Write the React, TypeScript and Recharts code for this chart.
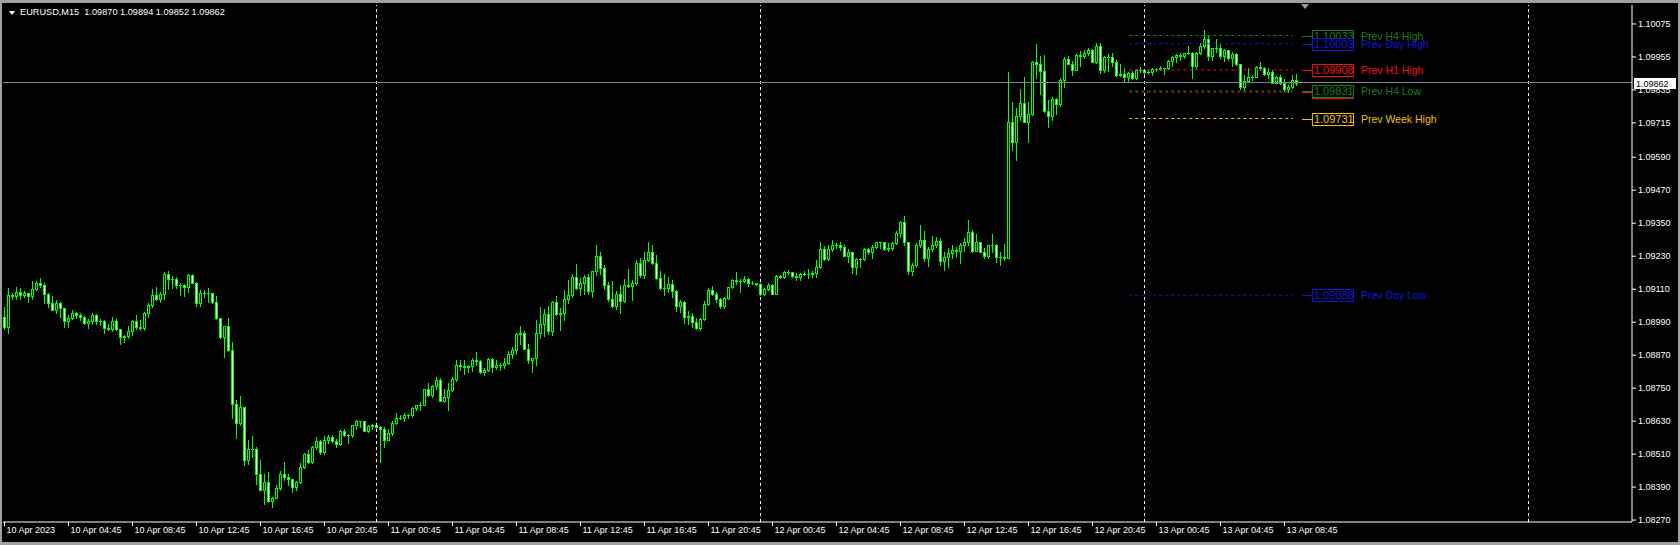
import { ComposedChart, Bar, XAxis, YAxis, ReferenceLine } from 'recharts'

// EURUSD M15, bars 0..323 (10 Apr 00:45 .. 13 Apr 09:45)
// prices kept as points above 1.08000 (price = 1.08 + pts / 100000)
const firstOpenPts = 1010

const closePts = [
  973, 1089, 1086, 1101, 1089, 1095, 1086, 1109, 1131, 1124,
  1091, 1061, 1036, 1058, 1040, 995, 1007, 1022, 1016, 1010,
  988, 994, 1016, 995, 995, 970, 967, 993, 964, 937,
  939, 958, 995, 973, 970, 1024, 1052, 1089, 1073, 1092,
  1167, 1146, 1146, 1127, 1127, 1119, 1161, 1133, 1061, 1097,
  1095, 1095, 1064, 1006, 937, 975, 888, 694, 622, 680,
  490, 530, 530, 439, 381, 409, 340, 351, 385, 439,
  427, 421, 391, 408, 464, 512, 480, 537, 558, 518,
  561, 571, 558, 546, 593, 579, 581, 615, 631, 630,
  594, 611, 617, 608, 603, 563, 588, 625, 643, 642,
  654, 654, 676, 688, 688, 746, 724, 757, 779, 704,
  719, 745, 785, 836, 831, 827, 830, 852, 849, 809,
  815, 855, 827, 836, 833, 843, 876, 888, 946, 949,
  894, 852, 858, 952, 985, 1018, 957, 1064, 1019, 1024,
  1074, 1088, 1153, 1115, 1131, 1155, 1104, 1176, 1230, 1188,
  1125, 1076, 1049, 1094, 1068, 1127, 1122, 1131, 1207, 1161,
  1216, 1246, 1207, 1150, 1113, 1116, 1128, 1105, 1050, 1062,
  1010, 1014, 990, 968, 1002, 1055, 1107, 1093, 1073, 1050,
  1077, 1117, 1144, 1140, 1140, 1147, 1131, 1131, 1130, 1091,
  1111, 1125, 1094, 1158, 1156, 1172, 1172, 1158, 1155, 1165,
  1165, 1164, 1170, 1190, 1256, 1220, 1256, 1271, 1269, 1263,
  1232, 1247, 1192, 1220, 1219, 1256, 1244, 1265, 1281, 1280,
  1256, 1259, 1277, 1313, 1356, 1281, 1176, 1198, 1271, 1289,
  1222, 1256, 1271, 1286, 1214, 1227, 1241, 1253, 1249, 1271,
  1281, 1317, 1250, 1281, 1247, 1229, 1269, 1269, 1226, 1226,
  1225, 1719, 1644, 1741, 1786, 1719, 1746, 1938, 1931, 1905,
  1758, 1741, 1802, 1782, 1871, 1947, 1931, 1907, 1962, 1959,
  1968, 1980, 1938, 1995, 1907, 1956, 1953, 1938, 1889, 1893,
  1883, 1895, 1877, 1907, 1908, 1899, 1901, 1911, 1912, 1913,
  1913, 1940, 1953, 1962, 1959, 1968, 1968, 1923, 1968, 1995,
  2022, 1959, 1986, 1986, 1959, 1980, 1950, 1964, 1929, 1847,
  1868, 1881, 1883, 1917, 1913, 1893, 1901, 1862, 1881, 1859,
  1840, 1847, 1870, 1862,
]

const highPts = [
  1046, 1113, 1095, 1117, 1113, 1104, 1096, 1140, 1140, 1149,
  1131, 1095, 1086, 1070, 1064, 1040, 1016, 1034, 1028, 1022,
  1012, 1000, 1022, 1019, 1000, 998, 983, 1010, 1000, 964,
  943, 976, 998, 1016, 998, 1028, 1061, 1109, 1117, 1101,
  1171, 1176, 1158, 1153, 1131, 1129, 1165, 1165, 1137, 1107,
  1107, 1113, 1097, 1085, 1007, 977, 1004, 919, 706, 721,
  682, 563, 575, 537, 488, 439, 444, 355, 397, 449,
  482, 439, 421, 413, 476, 515, 524, 539, 573, 563,
  575, 579, 579, 566, 597, 603, 583, 617, 633, 632,
  630, 617, 619, 617, 611, 609, 603, 630, 661, 651,
  661, 657, 682, 690, 700, 748, 767, 761, 791, 787,
  748, 770, 791, 852, 854, 852, 833, 858, 882, 852,
  824, 858, 858, 852, 843, 858, 884, 900, 949, 975,
  957, 909, 860, 997, 1046, 1037, 1048, 1066, 1085, 1042,
  1106, 1143, 1165, 1201, 1149, 1161, 1167, 1176, 1270, 1246,
  1197, 1137, 1139, 1103, 1127, 1146, 1183, 1143, 1218, 1222,
  1246, 1280, 1270, 1235, 1176, 1164, 1156, 1144, 1107, 1071,
  1067, 1031, 1022, 1004, 1007, 1067, 1113, 1123, 1099, 1079,
  1083, 1119, 1147, 1172, 1147, 1158, 1150, 1140, 1134, 1134,
  1116, 1131, 1128, 1162, 1162, 1176, 1180, 1174, 1168, 1170,
  1176, 1184, 1176, 1216, 1283, 1267, 1269, 1289, 1277, 1280,
  1269, 1256, 1247, 1222, 1222, 1259, 1261, 1271, 1283, 1283,
  1280, 1277, 1283, 1322, 1358, 1377, 1283, 1204, 1277, 1344,
  1320, 1265, 1304, 1301, 1298, 1244, 1261, 1271, 1265, 1277,
  1298, 1362, 1326, 1310, 1283, 1259, 1271, 1310, 1273, 1244,
  1273, 1899, 1790, 1768, 1840, 1881, 1792, 1940, 2002, 1958,
  1962, 1798, 1810, 1806, 1879, 1956, 1958, 1940, 1964, 1976,
  1980, 1988, 1984, 2004, 2007, 1959, 1965, 1968, 1944, 1928,
  1916, 1901, 1904, 1910, 1919, 1910, 1907, 1913, 1916, 1922,
  1916, 1944, 1959, 1964, 1968, 1970, 1995, 1974, 1972, 2004,
  2053, 2031, 1988, 2020, 2001, 1984, 1982, 1974, 1968, 1931,
  1889, 1916, 1889, 1922, 1935, 1919, 1913, 1907, 1887, 1891,
  1873, 1853, 1891, 1894,
]

const lowPts = [
  967, 949, 1076, 1073, 1076, 1080, 1064, 1076, 1107, 1119,
  1061, 1046, 1034, 1024, 1010, 973, 973, 1000, 1007, 998,
  985, 970, 985, 985, 979, 951, 961, 959, 961, 909,
  919, 934, 943, 967, 961, 961, 1010, 1046, 1070, 1064,
  1073, 1109, 1113, 1113, 1089, 1087, 1101, 1131, 1049, 1050,
  1083, 1064, 1061, 1001, 933, 864, 886, 643, 567, 615,
  472, 473, 500, 403, 379, 327, 336, 316, 349, 379,
  415, 399, 373, 379, 406, 461, 478, 476, 530, 512,
  512, 551, 554, 536, 542, 575, 551, 573, 603, 609,
  593, 591, 603, 600, 482, 536, 560, 581, 621, 637,
  631, 642, 648, 672, 672, 688, 722, 718, 748, 702,
  700, 670, 740, 775, 815, 801, 809, 813, 833, 806,
  797, 812, 809, 821, 815, 824, 839, 860, 873, 912,
  892, 843, 809, 833, 933, 940, 947, 943, 1015, 961,
  997, 1061, 1082, 1112, 1088, 1094, 1094, 1082, 1161, 1165,
  1112, 1066, 1046, 1037, 1024, 1064, 1118, 1070, 1125, 1155,
  1149, 1212, 1203, 1147, 1111, 1089, 1101, 1083, 1031, 1028,
  986, 982, 974, 964, 962, 998, 1053, 1089, 1062, 1043,
  1043, 1074, 1113, 1128, 1101, 1138, 1123, 1128, 1125, 1089,
  1089, 1107, 1091, 1091, 1150, 1150, 1164, 1156, 1144, 1144,
  1162, 1150, 1153, 1153, 1186, 1216, 1216, 1249, 1259, 1253,
  1229, 1210, 1170, 1165, 1192, 1216, 1237, 1225, 1261, 1259,
  1253, 1249, 1253, 1275, 1301, 1271, 1165, 1162, 1192, 1265,
  1214, 1196, 1249, 1265, 1198, 1180, 1192, 1222, 1229, 1204,
  1249, 1271, 1244, 1249, 1244, 1222, 1225, 1247, 1210, 1198,
  1216, 1222, 1616, 1580, 1725, 1717, 1646, 1743, 1879, 1822,
  1756, 1701, 1725, 1746, 1777, 1847, 1928, 1891, 1907, 1923,
  1952, 1962, 1935, 1934, 1895, 1901, 1905, 1923, 1887, 1887,
  1865, 1865, 1874, 1874, 1901, 1891, 1895, 1889, 1904, 1907,
  1893, 1911, 1923, 1938, 1944, 1952, 1964, 1879, 1913, 1964,
  1988, 1944, 1944, 1972, 1952, 1940, 1944, 1923, 1925, 1840,
  1834, 1865, 1871, 1881, 1907, 1889, 1879, 1859, 1859, 1855,
  1831, 1828, 1843, 1852,
]

const timeTicks = [0, 16, 32, 48, 64, 80, 96, 112, 128, 144, 160, 176, 192, 208, 224, 240, 256, 272, 288, 304, 320]
const timeLabels = [
  '10 Apr 2023', '10 Apr 04:45', '10 Apr 08:45', '10 Apr 12:45', '10 Apr 16:45', '10 Apr 20:45',
  '11 Apr 00:45', '11 Apr 04:45', '11 Apr 08:45', '11 Apr 12:45', '11 Apr 16:45', '11 Apr 20:45',
  '12 Apr 00:45', '12 Apr 04:45', '12 Apr 08:45', '12 Apr 12:45', '12 Apr 16:45', '12 Apr 20:45',
  '13 Apr 00:45', '13 Apr 04:45', '13 Apr 08:45',
]
const priceTicks = [
  1.10075, 1.09955, 1.09835, 1.09715, 1.0959, 1.0947, 1.0935, 1.0923,
  1.0911, 1.0899, 1.0887, 1.0875, 1.0863, 1.0851, 1.0839, 1.0827,
]
// bar index of each midnight
const daySeparators = [93, 189, 285, 381]

// indicator levels; the H1 low sits just under the H4 low and only its line and box edge show
const levelNames = ['Prev H1 Low', 'Prev H4 High', 'Prev Day High', 'Prev H1 High', 'Prev H4 Low', 'Prev Week High', 'Prev Day Low']
const levelValues = [1.09827, 1.10033, 1.10003, 1.09908, 1.09831, 1.09731, 1.09088]
const levelHidden = [true, false, false, false, false, false, false]
const levelFrom = 281.2
const levelTo = 322.1

const symbol = 'EURUSD,M15'
const bid = 1.09862
const shiftBar = 325.1

const levelColors = ['#f01010', '#11801a', '#1414d8', '#f01010', '#11801a', '#f2c200', '#1414d8']
const LIME = '#00ff00'
const FONT = '"Liberation Sans", Arial, sans-serif'
const FRAME = '#a0a0a0'

const toPrice = (p: number) => 1.08 + p / 100000

const rows = closePts.map((c, i) => {
  const open = toPrice(i === 0 ? firstOpenPts : closePts[i - 1])
  const close = toPrice(c)
  const high = Math.max(toPrice(highPts[i]), open, close)
  const low = Math.min(toPrice(lowPts[i]), open, close)
  return { i, open, close, high, low, range: [low, high] }
})

const last = rows[rows.length - 1]

function Candle(props: any) {
  const { x, y, width, height, payload } = props
  if (!payload || x == null || y == null) return null
  const { open, close, high, low } = payload
  const yTop = Math.min(y, y + height)
  const yBot = Math.max(y, y + height)
  const span = high - low
  const toY = (p: number) => (span > 0 ? yTop + ((high - p) / span) * (yBot - yTop) : yTop)
  const cx = Math.floor(x + width / 2)
  const hy = Math.round(yTop)
  const ly = Math.round(yBot)
  const bt = Math.round(toY(Math.max(open, close)))
  const bb = Math.round(toY(Math.min(open, close)))
  const bear = close < open
  return (
    <g shapeRendering="crispEdges">
      <rect x={cx} y={hy} width={1} height={Math.max(1, ly - hy + 1)} fill={LIME} />
      <rect x={cx - 1} y={bt} width={3} height={Math.max(1, bb - bt + 1)} fill={LIME} />
      {bb - bt >= 2 && <rect x={cx} y={bt + 1} width={1} height={bb - bt - 1} fill={bear ? '#ffffff' : '#000000'} />}
    </g>
  )
}

function TimeTick(props: any) {
  const { x, y, payload } = props
  const idx = timeTicks.indexOf(payload.value)
  return (
    <text x={x + 2} y={y} dy="0.71em" fill="#ffffff" fontSize={9} fontFamily={FONT}>
      {timeLabels[idx]}
    </text>
  )
}

function LevelTag(props: any) {
  const { viewBox, name, value, color, hidden } = props
  if (!viewBox) return null
  const ex = viewBox.x + viewBox.width
  const ly = Math.round(viewBox.y + (viewBox.height || 0) / 2) + 0.5
  return (
    <g>
      <line x1={ex + 9} x2={ex + 19} y1={ly} y2={ly} stroke={color} />
      <rect x={ex + 19.5} y={ly - 6} width={41} height={12} fill="#000" stroke={color} />
      {!hidden && (
        <>
          <text x={ex + 21} y={ly + 3} fill={color} fontSize={11} fontFamily={FONT}>{value.toFixed(5)}</text>
          <text x={ex + 68} y={ly + 3} fill={color} fontSize={10.5} fontFamily={FONT}>{name}</text>
        </>
      )}
    </g>
  )
}

function BidTag(props: any) {
  const { viewBox } = props
  if (!viewBox) return null
  const bx = viewBox.x + viewBox.width + 2
  const by = Math.round(viewBox.y)
  return (
    <g>
      <rect x={bx} y={by - 5} width={42} height={11} fill="#ffffff" />
      <text x={bx + 2} y={by + 4} fill="#000000" fontSize={9} fontFamily={FONT}>{bid.toFixed(5)}</text>
    </g>
  )
}

function ShiftMark(props: any) {
  const { viewBox } = props
  if (!viewBox) return null
  const x = Math.round(viewBox.x)
  const y = viewBox.y
  return <polygon points={`${x - 4},${y - 1} ${x + 4},${y - 1} ${x},${y + 4}`} fill="#9aa0a6" />
}

export default function App() {
  return (
    <div style={{ position: 'absolute', left: 0, top: 0, width: 1680, height: 545, background: '#000', fontFamily: FONT, overflow: 'hidden' }}>
      <ComposedChart width={1680} height={545} data={rows} margin={{ top: 5, right: 0, bottom: 0, left: 3 }}>
        <XAxis
          dataKey="i" type="number" domain={[-0.375, 406.875]} ticks={timeTicks} interval={0}
          height={23} tick={<TimeTick />} tickSize={4} tickMargin={1}
          tickLine={{ stroke: '#ffffff' }} axisLine={{ stroke: '#ffffff' }} allowDataOverflow
        />
        <XAxis xAxisId="top" orientation="top" type="number" domain={[0, 1]} height={0} tick={false} tickLine={false} axisLine={{ stroke: '#ffffff' }} />
        <YAxis
          orientation="right" type="number" domain={[1.08263, 1.10144]} ticks={priceTicks} interval={0}
          width={48} tickSize={4} tickMargin={2} allowDataOverflow
          tick={{ fill: '#ffffff', fontSize: 9, fontFamily: FONT }}
          tickFormatter={(v: number) => v.toFixed(5)}
          tickLine={{ stroke: '#ffffff' }} axisLine={{ stroke: '#ffffff' }}
        />
        <YAxis yAxisId="left" orientation="left" type="number" domain={[0, 1]} width={0} tick={false} tickLine={false} axisLine={{ stroke: '#ffffff' }} />

        {daySeparators.map((d) => (
          <ReferenceLine key={d} x={d} stroke="#ffffff" strokeDasharray="3 3" ifOverflow="visible" />
        ))}

        {levelValues.map((v, k) => (
          <ReferenceLine
            key={levelNames[k]}
            segment={[{ x: levelFrom, y: v }, { x: levelTo, y: v }]}
            stroke={levelColors[k]} strokeDasharray="3 3"
            label={<LevelTag name={levelNames[k]} value={v} color={levelColors[k]} hidden={levelHidden[k]} />}
          />
        ))}

        <ReferenceLine x={shiftBar} stroke="none" label={<ShiftMark />} />

        <Bar dataKey="range" barSize={3} shape={<Candle />} isAnimationActive={false} />

        <ReferenceLine y={bid} stroke="#778899" label={<BidTag />} />
      </ComposedChart>

      <div style={{ position: 'absolute', left: 0, top: 0, right: 0, height: 3, background: FRAME }} />
      <div style={{ position: 'absolute', left: 0, top: 0, bottom: 0, width: 2, background: FRAME }} />
      <div style={{ position: 'absolute', left: 0, bottom: 0, right: 0, height: 3, background: FRAME }} />
      <div style={{ position: 'absolute', right: 0, top: 0, bottom: 0, width: 2, background: FRAME }} />

      <div style={{ position: 'absolute', left: 9, top: 11, width: 0, height: 0, borderLeft: '3px solid transparent', borderRight: '3px solid transparent', borderTop: '4px solid #ffffff' }} />
      <div style={{ position: 'absolute', left: 20, top: 7, color: '#ffffff', fontSize: 9.2, lineHeight: '11px', whiteSpace: 'pre' }}>
        {`${symbol}  ${last.open.toFixed(5)} ${last.high.toFixed(5)} ${last.low.toFixed(5)} ${last.close.toFixed(5)}`}
      </div>
    </div>
  )
}
